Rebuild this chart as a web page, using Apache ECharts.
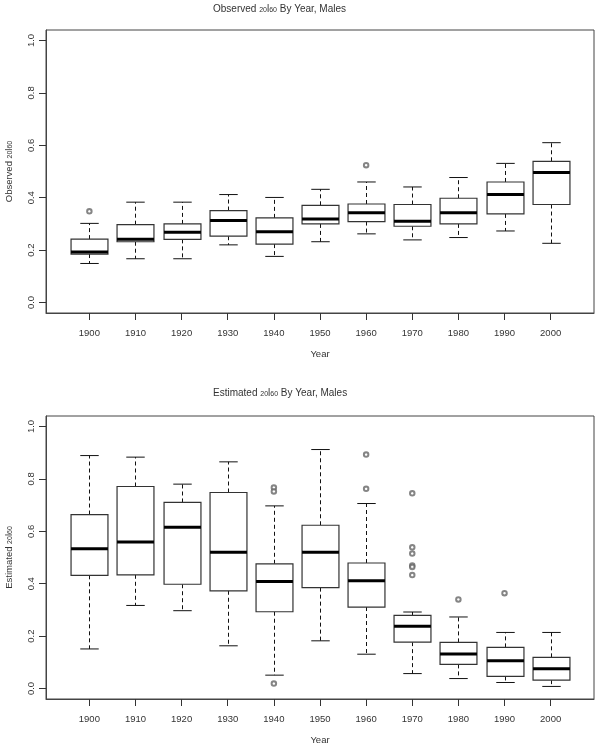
<!DOCTYPE html>
<html>
<head>
<meta charset="utf-8">
<script src="https://cdn.jsdelivr.net/npm/echarts@6/dist/echarts.min.js"></script>
<style>
html,body{margin:0;padding:0;background:#fff;}
#c{width:598px;height:747px;}
</style>
</head>
<body>
<div id="c"></div>
<script>
// ---- Data ----
const years = [1900, 1910, 1920, 1930, 1940, 1950, 1960, 1970, 1980, 1990, 2000];
const yTicks = [0, 0.2, 0.4, 0.6, 0.8, 1.0];

// Observed 20l60
const obsMin = [0.149, 0.167, 0.167, 0.220, 0.176, 0.232, 0.262, 0.239, 0.248, 0.273, 0.226];
const obsQ1  = [0.185, 0.232, 0.241, 0.253, 0.223, 0.300, 0.309, 0.291, 0.300, 0.338, 0.374];
const obsMed = [0.193, 0.241, 0.268, 0.313, 0.270, 0.319, 0.343, 0.310, 0.343, 0.412, 0.496];
const obsQ3  = [0.242, 0.297, 0.300, 0.351, 0.323, 0.371, 0.376, 0.374, 0.398, 0.460, 0.539];
const obsMax = [0.302, 0.383, 0.383, 0.412, 0.401, 0.432, 0.460, 0.441, 0.477, 0.531, 0.610];
const obsOutYears = [1900, 1960];
const obsOutVals  = [0.348, 0.524];

// Estimated 20l60
const estMin = [0.151, 0.317, 0.297, 0.163, 0.051, 0.182, 0.131, 0.057, 0.038, 0.023, 0.008];
const estQ1  = [0.432, 0.434, 0.398, 0.373, 0.293, 0.385, 0.311, 0.177, 0.092, 0.046, 0.032];
const estMed = [0.533, 0.559, 0.615, 0.520, 0.408, 0.520, 0.411, 0.238, 0.132, 0.106, 0.075];
const estQ3  = [0.664, 0.771, 0.710, 0.748, 0.476, 0.623, 0.479, 0.279, 0.176, 0.157, 0.119];
const estMax = [0.889, 0.883, 0.780, 0.865, 0.697, 0.912, 0.706, 0.292, 0.273, 0.214, 0.214];
const estOutYears = [1940, 1940, 1940, 1960, 1960, 1970, 1970, 1970, 1970, 1970, 1970, 1980, 1990];
const estOutVals  = [0.767, 0.752, 0.019, 0.893, 0.762, 0.745, 0.539, 0.515, 0.469, 0.464, 0.433, 0.340, 0.364];

// ---- Build ----
const FONT = 'Liberation Sans, Arial, sans-serif';
const TXT = '#333';
const FRAME = '#444';

function boxData(mn, q1, md, q3, mx) {
  return years.map((y, i) => [y, mn[i], q1[i], md[i], q3[i], mx[i]]);
}
function outData(ys, vs) { return ys.map((y, i) => [y, vs[i]]); }

function renderBox(params, api) {
  const x = api.value(0);
  const vMin = api.value(1), vQ1 = api.value(2), vMed = api.value(3), vQ3 = api.value(4), vMax = api.value(5);
  const halfBox = api.size([4, 0])[0];
  const halfCap = api.size([2, 0])[0];
  const pMin = api.coord([x, vMin]);
  const pQ1 = api.coord([x, vQ1]);
  const pMed = api.coord([x, vMed]);
  const pQ3 = api.coord([x, vQ3]);
  const pMax = api.coord([x, vMax]);
  const cx = Math.round(pMed[0]) + 0.5;
  const dashStyle = { stroke: '#111', lineWidth: 1, lineDash: [4, 3] };
  const solid = { stroke: '#111', lineWidth: 1 };
  return {
    type: 'group',
    children: [
      { type: 'line', shape: { x1: cx, y1: pQ3[1], x2: cx, y2: pMax[1] }, style: dashStyle },
      { type: 'line', shape: { x1: cx, y1: pQ1[1], x2: cx, y2: pMin[1] }, style: dashStyle },
      { type: 'line', shape: { x1: cx - halfCap, y1: pMax[1], x2: cx + halfCap, y2: pMax[1] }, style: solid },
      { type: 'line', shape: { x1: cx - halfCap, y1: pMin[1], x2: cx + halfCap, y2: pMin[1] }, style: solid },
      { type: 'rect', shape: { x: cx - halfBox, y: pQ3[1], width: 2 * halfBox, height: pQ1[1] - pQ3[1] },
        style: { fill: '#fff', stroke: '#333', lineWidth: 1.2 } },
      { type: 'line', shape: { x1: cx - halfBox, y1: pMed[1], x2: cx + halfBox, y2: pMed[1] },
        style: { stroke: '#000', lineWidth: 3 } }
    ]
  };
}

function richTitle(prefix, suffix) {
  return '{n|' + prefix + '}{s|20}{n|l}{s|60}{n|' + suffix + '}';
}
const richDef = (size) => ({
  n: { fontSize: size, fontFamily: FONT, fontWeight: 'normal', color: TXT, lineHeight: 12, verticalAlign: 'bottom' },
  s: { fontSize: Math.round(size * 0.7), fontFamily: FONT, fontWeight: 'normal', color: TXT, lineHeight: 6, verticalAlign: 'bottom' }
});

function xAxisDef(gi) {
  return {
    type: 'value', gridIndex: gi, min: 1890.6, max: 2009.4, position: 'bottom',
    name: 'Year', nameLocation: 'middle', nameGap: 36,
    nameTextStyle: { fontSize: 9.5, fontFamily: FONT, color: TXT },
    axisLine: { show: true, onZero: false, lineStyle: { color: FRAME, width: 1 } },
    axisTick: { show: true, inside: false, length: 7, customValues: years, lineStyle: { color: '#333' } },
    axisLabel: { customValues: years, margin: 15, fontSize: 9.5, fontFamily: FONT, color: TXT,
      formatter: v => String(Math.round(v)) },
    splitLine: { show: false }
  };
}
function yAxisDef(gi, nameRich) {
  return {
    type: 'value', gridIndex: gi, min: -0.04, max: 1.04, position: 'left',
    name: nameRich, nameLocation: 'middle', nameGap: 32, nameRotate: 90,
    nameTextStyle: { rich: richDef(9.5) },
    axisLine: { show: true, onZero: false, lineStyle: { color: FRAME, width: 1 } },
    axisTick: { show: true, inside: false, length: 7, customValues: yTicks, lineStyle: { color: '#333' } },
    axisLabel: { customValues: yTicks, rotate: 90, margin: 10, fontSize: 9.5, fontFamily: FONT, color: TXT,
      formatter: v => v.toFixed(1) },
    splitLine: { show: false }
  };
}

const chart = echarts.init(document.getElementById('c'), null, { renderer: 'canvas' });
chart.setOption({
  animation: false,
  backgroundColor: '#fff',
  title: [
    { text: richTitle('Observed ', ' By Year, Males'), left: 213, top: 2, padding: 0,
      textStyle: { fontWeight: 'normal', rich: richDef(10) } },
    { text: richTitle('Estimated ', ' By Year, Males'), left: 213, top: 386, padding: 0,
      textStyle: { fontWeight: 'normal', rich: richDef(10) } }
  ],
  grid: [
    { left: 46, top: 30, width: 548, height: 283, containLabel: false, outerBoundsMode: 'none',
      show: true, borderColor: FRAME, borderWidth: 1, backgroundColor: 'transparent' },
    { left: 46, top: 416, width: 548, height: 283, containLabel: false, outerBoundsMode: 'none',
      show: true, borderColor: FRAME, borderWidth: 1, backgroundColor: 'transparent' }
  ],
  xAxis: [xAxisDef(0), xAxisDef(1)],
  yAxis: [yAxisDef(0, richTitle('Observed ', '')), yAxisDef(1, richTitle('Estimated ', ''))],
  series: [
    { type: 'custom', xAxisIndex: 0, yAxisIndex: 0, renderItem: renderBox,
      data: boxData(obsMin, obsQ1, obsMed, obsQ3, obsMax), encode: { x: 0, y: [1, 2, 3, 4, 5] } },
    { type: 'scatter', xAxisIndex: 0, yAxisIndex: 0, symbol: 'emptyCircle', symbolSize: 4.5,
      itemStyle: { color: '#666', borderWidth: 0.7 }, data: outData(obsOutYears, obsOutVals) },
    { type: 'custom', xAxisIndex: 1, yAxisIndex: 1, renderItem: renderBox,
      data: boxData(estMin, estQ1, estMed, estQ3, estMax), encode: { x: 0, y: [1, 2, 3, 4, 5] } },
    { type: 'scatter', xAxisIndex: 1, yAxisIndex: 1, symbol: 'emptyCircle', symbolSize: 4.5,
      itemStyle: { color: '#666', borderWidth: 0.7 }, data: outData(estOutYears, estOutVals) }
  ]
});
</script>
</body>
</html>
